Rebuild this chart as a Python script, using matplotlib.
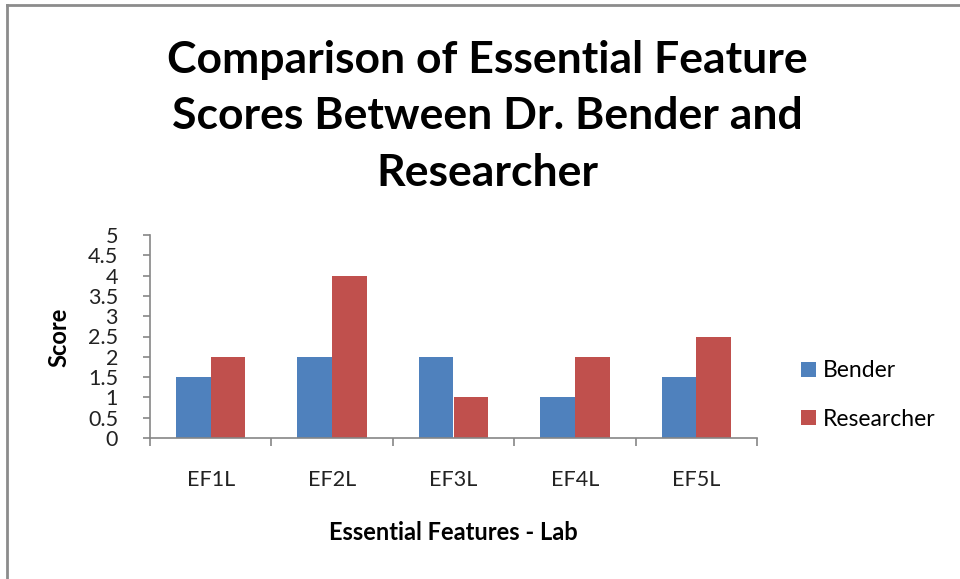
import matplotlib
matplotlib.use("Agg")
import matplotlib.pyplot as plt
from matplotlib.lines import Line2D
from matplotlib.patches import Patch
import numpy as np

plt.rcParams['font.family'] = ['Lato', 'DejaVu Sans']

# data
categories = ['EF1L', 'EF2L', 'EF3L', 'EF4L', 'EF5L']
bender = [1.5, 2, 2, 1, 1.5]
researcher = [2, 4, 1, 2, 2.5]
yticks = [0, 0.5, 1, 1.5, 2, 2.5, 3, 3.5, 4, 4.5, 5]

blue = '#4F81BD'
red = '#C0504D'
axis_grey = '#868686'

W, H = 960, 579
fig = plt.figure(figsize=(W / 100, H / 100), dpi=100)

# plot area in pixels
x0, x1, ytop, ybot = 150, 757, 235, 438
ax = fig.add_axes([x0 / W, 1 - ybot / H, (x1 - x0) / W, (ybot - ytop) / H])

x = np.arange(len(categories))
bw = 0.286
ax.bar(x - bw / 2, bender, bw, color=blue, label='Bender')
ax.bar(x + bw / 2, researcher, bw, color=red, label='Researcher')

ax.set_xlim(-0.5, len(categories) - 0.5)
ax.set_ylim(0, 5)
ax.set_yticks(yticks)
ax.set_yticklabels(['%g' % v for v in yticks])
ax.set_xticks(np.arange(-0.5, len(categories), 1.0))
ax.set_xticklabels([])
ax.set_xticks(x, minor=True)
ax.set_xticklabels(categories, minor=True)

for s in ['top', 'right']:
    ax.spines[s].set_visible(False)
for s in ['left', 'bottom']:
    ax.spines[s].set_color(axis_grey)
    ax.spines[s].set_linewidth(1.2)

ax.tick_params(axis='y', which='major', length=5, color=axis_grey, width=1.2,
               labelsize=15.5, pad=18, labelcolor='#222222')
ax.tick_params(axis='x', which='major', length=6, color=axis_grey, width=1.2)
ax.tick_params(axis='x', which='minor', length=0, labelsize=15.5, pad=23,
               labelcolor='#222222')

ax.set_ylabel('Score', fontsize=17, fontweight='bold')
ax.yaxis.set_label_coords(70 / W, 1 - 337 / H, transform=fig.transFigure)
fig.text(453 / W, 1 - 533 / H, 'Essential Features - Lab', fontsize=17,
         fontweight='bold', ha='center', va='center')

fig.text(487 / W, 1 - 116 / H,
         'Comparison of Essential Feature\nScores Between Dr. Bender and\nResearcher',
         fontsize=32, fontweight='bold', ha='center', va='center',
         linespacing=1.5)

handles = [Patch(facecolor=blue, label='Bender'),
           Patch(facecolor=red, label='Researcher')]
fig.legend(handles=handles, loc='center left',
           bbox_to_anchor=(780 / W, 1 - 395 / H), frameon=False,
           fontsize=16.5, handlelength=0.65, handleheight=0.65,
           handletextpad=0.3, labelspacing=1.2)

# chart border (top and left only visible)
fig.add_artist(Line2D([7 / W, 7 / W], [0, 1 - 5 / H], color='#8c8c8c', lw=2,
                      transform=fig.transFigure))
fig.add_artist(Line2D([7 / W, 1], [1 - 5 / H, 1 - 5 / H], color='#8c8c8c', lw=2,
                      transform=fig.transFigure))

fig.savefig('out.png', dpi=100)
